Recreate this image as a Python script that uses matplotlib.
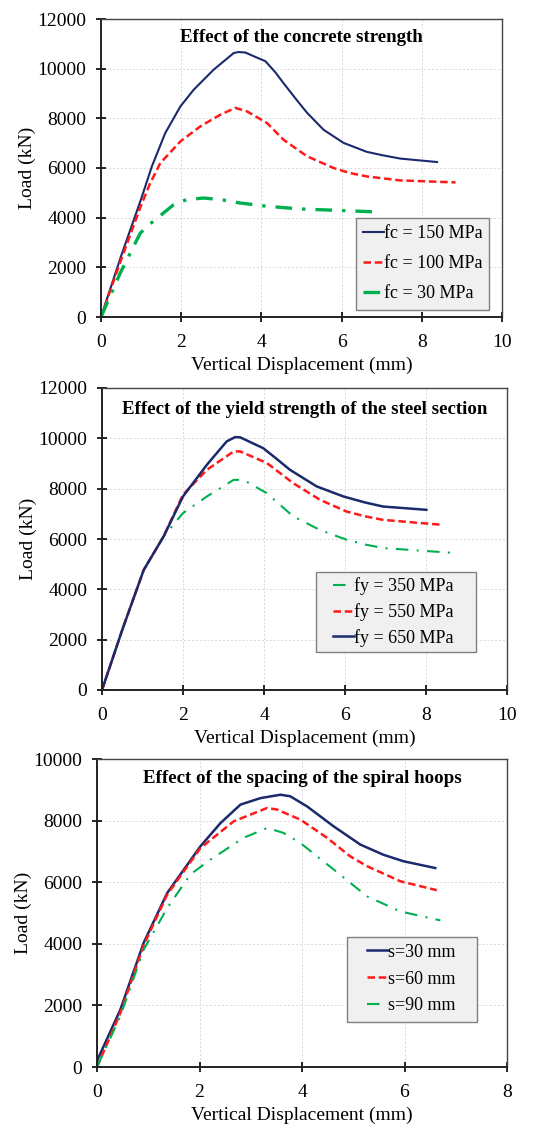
import matplotlib
matplotlib.use("Agg")
import matplotlib.pyplot as plt
from matplotlib.patches import Rectangle

plt.rcParams['font.family'] = ['Liberation Serif', 'DejaVu Serif']

NAVY = "#1a2a6c"
RED = "#ff1a1a"
GREEN = "#00b050"

# panel 1 - concrete strength
fc150_x = [0, 0.5, 1.0, 1.27, 1.6, 1.98, 2.31, 2.81, 3.31, 3.43, 3.6, 3.81, 4.1, 4.35, 4.55, 4.85, 5.14, 5.55, 6.05, 6.63, 7.0, 7.46, 8.38]
fc150_y = [0, 2450, 4750, 6070, 7400, 8480, 9150, 9960, 10630, 10670, 10650, 10500, 10300, 9850, 9420, 8800, 8220, 7540, 7010, 6650, 6520, 6380, 6240]
fc100_x = [0, 0.5, 1.0, 1.23, 1.48, 1.98, 2.48, 2.98, 3.35, 3.64, 4.14, 4.55, 5.14, 5.8, 6.2, 6.63, 7.46, 8.84]
fc100_y = [0, 2300, 4500, 5400, 6200, 7070, 7680, 8150, 8420, 8280, 7810, 7140, 6470, 6000, 5800, 5660, 5500, 5420]
fc30_x = [0, 0.48, 0.98, 1.27, 1.81, 2.14, 2.56, 2.98, 3.47, 4.14, 4.97, 5.8, 6.88]
fc30_y = [0, 1770, 3380, 3810, 4520, 4730, 4790, 4730, 4590, 4460, 4350, 4300, 4230]

# panel 2 - yield strength of steel section
fy650_x = [0, 0.5, 1.03, 1.52, 2.0, 2.59, 3.08, 3.29, 3.41, 3.98, 4.3, 4.64, 5.3, 5.96, 6.5, 6.94, 8.01]
fy650_y = [0, 2390, 4770, 6100, 7690, 8950, 9880, 10050, 10040, 9610, 9200, 8750, 8090, 7690, 7450, 7290, 7160]
fy550_x = [0, 0.5, 1.03, 1.52, 2.0, 2.59, 3.25, 3.41, 4.07, 4.72, 5.38, 6.04, 6.5, 6.94, 8.42]
fy550_y = [0, 2390, 4770, 6100, 7760, 8750, 9480, 9480, 9020, 8220, 7560, 7090, 6900, 6760, 6560]
fy350_x = [0, 0.5, 1.03, 1.52, 2.0, 2.59, 3.25, 3.49, 4.07, 4.72, 5.38, 6.04, 6.5, 6.94, 8.75]
fy350_y = [0, 2390, 4770, 6100, 7030, 7690, 8350, 8350, 7820, 6900, 6360, 5970, 5780, 5640, 5440]

# panel 3 - spacing of spiral hoops
s30_x = [0, 0.455, 0.91, 1.37, 2.02, 2.41, 2.8, 3.19, 3.58, 3.77, 4.1, 4.62, 5.14, 5.59, 5.98, 6.6]
s30_y = [200, 1860, 4030, 5650, 7170, 7920, 8520, 8730, 8840, 8790, 8460, 7810, 7220, 6890, 6680, 6460]
s60_x = [0, 0.455, 0.91, 1.37, 2.02, 2.67, 3.32, 3.51, 3.97, 4.49, 4.94, 5.27, 5.92, 6.63]
s60_y = [0, 1750, 3950, 5600, 7110, 7980, 8410, 8360, 8030, 7440, 6840, 6520, 6030, 5740]
s90_x = [0, 0.455, 0.91, 1.37, 1.82, 2.21, 2.86, 3.32, 3.64, 3.97, 4.62, 5.27, 5.92, 6.7]
s90_y = [0, 1650, 3810, 5160, 6250, 6730, 7440, 7760, 7600, 7270, 6410, 5540, 5050, 4760]

W, H = 536, 1128


def style_axes(ax, xmax, ymax, ystep):
    ax.set_xlim(0, xmax)
    ax.set_ylim(0, ymax)
    ax.set_xticks(range(0, xmax + 1, 2))
    ax.set_yticks(range(0, ymax + 1, ystep))
    ax.grid(True, color="#d9d9d9", linestyle=(0, (2, 2)), linewidth=0.7)
    ax.set_axisbelow(True)
    ax.tick_params(direction="inout", length=7, width=1.2, labelsize=14)
    ax.tick_params(axis="x", pad=9)
    ax.tick_params(axis="y", pad=7)
    for side in ("left", "bottom"):
        ax.spines[side].set_color("#222222")
        ax.spines[side].set_linewidth(1.4)
    for side in ("top", "right"):
        ax.spines[side].set_color("#444444")
        ax.spines[side].set_linewidth(1.0)
    ax.set_xlabel("Vertical Displacement (mm)", fontsize=14, labelpad=4)
    ax.set_ylabel("Load (kN)", fontsize=14, labelpad=1)


def add_legend(fig, box, hx, yc, spacing):
    # box = (left, top, right, bottom) in figure pixels
    l, t, r, b = box
    fig.patches.append(Rectangle((l / W, 1 - b / H), (r - l) / W, (b - t) / H,
                                 transform=fig.transFigure, facecolor="#f0f0f0",
                                 edgecolor="#808080", linewidth=1.0, zorder=4))
    leg = fig.legend(handles=fig.axes[-1].get_lines(), loc="center left",
                     bbox_to_anchor=(hx / W, 1 - yc / H), borderaxespad=0,
                     fontsize=13, handlelength=1.15, handletextpad=0.0,
                     labelspacing=spacing, frameon=False, borderpad=0)
    leg.set_zorder(5)


fig = plt.figure(figsize=(5.36, 11.28), dpi=100)
ax1 = fig.add_axes([101 / W, 1 - 317 / H, 401 / W, 298 / H])
ax1.plot(fc150_x, fc150_y, color=NAVY, lw=1.5, label="fc = 150 MPa")
ax1.plot(fc100_x, fc100_y, color=RED, lw=1.8, ls=(0, (3, 1.5)), label="fc = 100 MPa")
ax1.plot(fc30_x, fc30_y, color=GREEN, lw=2.4, ls=(0, (5, 3, 1, 3)), label="fc = 30 MPa")
style_axes(ax1, 10, 12000, 2000)
ax1.set_title("Effect of the concrete strength", fontsize=13.6, fontweight="bold", y=0.895)
add_legend(fig, (356, 218, 489, 310), 363, 264, 0.72)

ax2 = fig.add_axes([102 / W, 1 - 690 / H, 405 / W, 302 / H])
ax2.plot(fy350_x, fy350_y, color=GREEN, lw=1.5, ls=(0, (6, 4, 1, 4)), label="fy = 350 MPa")
ax2.plot(fy550_x, fy550_y, color=RED, lw=1.8, ls=(0, (3, 1.5)), label="fy = 550 MPa")
ax2.plot(fy650_x, fy650_y, color=NAVY, lw=1.8, label="fy = 650 MPa")
style_axes(ax2, 10, 12000, 2000)
ax2.set_title("Effect of the yield strength of the steel section", fontsize=13.6, fontweight="bold", y=0.885)
add_legend(fig, (316, 572, 476, 652), 333, 612, 0.44)

ax3 = fig.add_axes([97 / W, 1 - 1067 / H, 410 / W, 308 / H])
ax3.plot(s30_x, s30_y, color=NAVY, lw=1.8, label="s=30 mm")
ax3.plot(s60_x, s60_y, color=RED, lw=1.8, ls=(0, (3, 1.5)), label="s=60 mm")
ax3.plot(s90_x, s90_y, color=GREEN, lw=1.5, ls=(0, (6, 4, 1, 4)), label="s=90 mm")
style_axes(ax3, 8, 10000, 2000)
ax3.set_title("Effect of the spacing of the spiral hoops", fontsize=13.6, fontweight="bold", y=0.895)
add_legend(fig, (347, 937, 477, 1022), 367, 979, 0.55)

fig.savefig("out.png", dpi=100)
